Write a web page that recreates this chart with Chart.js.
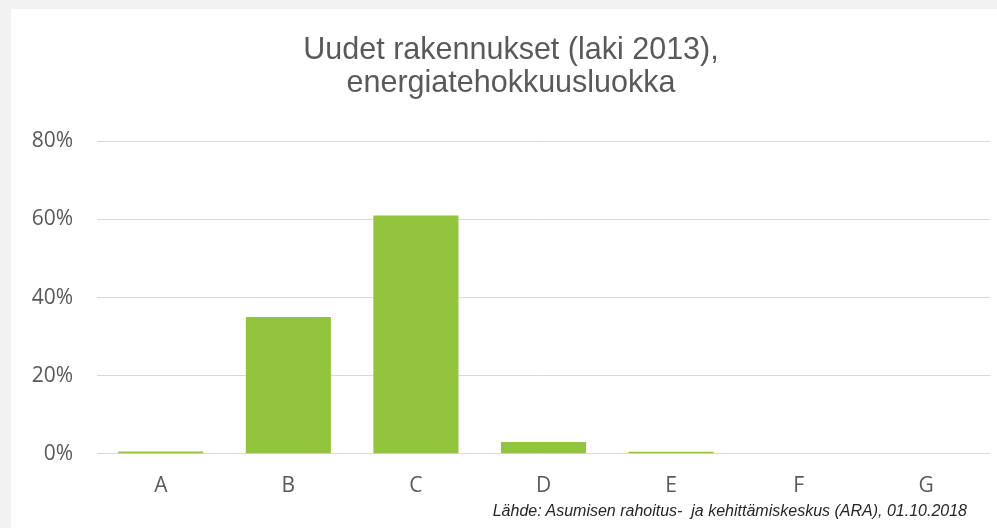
<!DOCTYPE html>
<html>
<head>
<meta charset="utf-8">
<script src="https://cdn.jsdelivr.net/npm/chart.js@4"></script>
<style>
  body { margin: 0; background: #f2f2f2; width: 997px; height: 528px; overflow: hidden; }
  #panel { position: absolute; left: 11px; top: 9px; width: 986px; height: 519px; background: #fff; }
  #source {
    position: absolute; right: 30px; bottom: 8px;
    font: italic 16px "Liberation Sans", Arial, sans-serif; color: #262626;
  }
</style>
</head>
<body>
<div id="panel">
  <canvas id="myChart" width="986" height="519"></canvas>
  <div id="source">Lähde: Asumisen rahoitus-&nbsp; ja kehittämiskeskus (ARA), 01.10.2018</div>
</div>
<script>
// energy classes and share of new buildings (%)
const luokat = ["A", "B", "C", "D", "E", "F", "G"];
const osuudet = [0.6, 35, 61, 3, 0.5, 0, 0];
const otsikko = ["Uudet rakennukset (laki 2013),", "energiatehokkuusluokka"];

const ctx = document.getElementById("myChart");

new Chart(ctx, {
  type: "bar",
  data: {
    labels: luokat,
    datasets: [
      {
        label: "Osuus",
        data: osuudet,
        backgroundColor: "#93c43e",
        categoryPercentage: 1,
        barPercentage: 0.667,
      },
    ],
  },
  options: {
    responsive: false,
    animation: false,
    layout: { padding: { left: 21, right: 7, top: 0, bottom: 10 } },
    plugins: {
      legend: { display: false },
      tooltip: { enabled: false },
      title: {
        display: true,
        text: otsikko,
        color: "#595959",
        font: { family: "Liberation Sans", size: 30.5, weight: "normal", lineHeight: 1.08 },
        padding: { top: 25.5, bottom: 41 },
      },
    },
    scales: {
      x: {
        grid: { display: false, drawTicks: false },
        border: { display: false },
        ticks: {
          color: "#595959",
          font: { family: "Open Sans", size: 21 },
          padding: 19.5,
        },
      },
      y: {
        min: 0,
        max: 80,
        grid: { color: "#d9d9d9", lineWidth: 1, drawTicks: false },
        border: { display: false },
        ticks: {
          stepSize: 20,
          color: "#595959",
          font: { family: "Open Sans", size: 21 },
          padding: 24,
          callback: (v) => v + "%",
        },
        afterFit: (scale) => {
          scale.width = 65;
        },
      },
    },
  },
});
</script>
</body>
</html>
